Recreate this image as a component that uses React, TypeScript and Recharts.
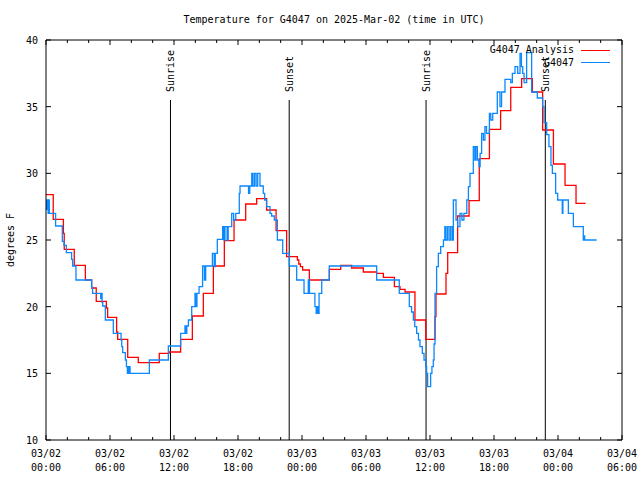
import React from 'react';
import { LineChart, Line, XAxis, YAxis, ReferenceLine } from 'recharts';

// hours since 2025-03-02 00:00 UTC, temperature in F (step data)
const analysisHours = [0, 0.68, 1.63, 1.71, 2.65, 3.69, 4.28, 4.71, 5.66, 5.78, 6.62, 6.72, 7.66, 8.65, 10.62, 11.53, 12.62, 13.72, 14.75, 15.69, 16.72, 17.63, 18.72, 19.75, 20.68, 21.57, 22.56, 23.57, 23.7, 23.85, 24.06, 24.69, 26.56, 27.63, 28.65, 29.75, 31.0, 31.63, 32.66, 33.19, 33.66, 34.59, 35.6, 36.47, 36.56, 37.5, 37.66, 38.59, 39.66, 40.62, 41.57, 42.62, 43.57, 44.59, 45.6, 46.56, 47.57, 48.66, 49.69, 50.59];
const analysisTemps = [28.4, 26.55, 25.5, 24.3, 23.1, 22.0, 21.4, 20.4, 19.9, 19.2, 18.1, 17.55, 16.2, 15.8, 16.5, 16.6, 17.55, 19.3, 21.0, 23.05, 24.95, 26.5, 27.7, 28.1, 27.25, 25.7, 23.75, 23.5, 23.2, 23.0, 22.75, 22.0, 22.8, 23.1, 22.9, 22.6, 22.5, 22.2, 21.5, 21.3, 21.1, 19.0, 17.55, 19.25, 20.95, 22.5, 24.05, 26.8, 27.95, 31.1, 33.3, 34.7, 36.45, 37.1, 36.1, 33.25, 30.7, 29.1, 27.75, 27.75];

const obsHours = [0, 0.05, 0.12, 0.2, 0.25, 0.31, 0.9, 1.53, 1.69, 1.91, 2.4, 2.5, 2.81, 4.28, 4.37, 5.13, 5.2, 5.26, 5.32, 5.56, 6.31, 7.04, 7.1, 7.19, 7.44, 7.54, 7.63, 7.69, 7.76, 7.82, 7.88, 9.69, 11.47, 12.62, 13.03, 13.1, 13.2, 13.35, 13.66, 13.97, 14.05, 14.15, 14.35, 14.68, 14.85, 14.97, 15.6, 15.77, 15.87, 16.06, 16.56, 16.68, 16.78, 16.98, 17.08, 17.41, 17.59, 17.79, 18.12, 18.19, 18.99, 19.1, 19.29, 19.4, 19.55, 19.7, 19.85, 20.06, 20.37, 20.5, 20.68, 21.0, 21.15, 21.4, 21.69, 22.19, 22.81, 23.5, 24.19, 24.59, 24.7, 25.21, 25.33, 25.42, 25.48, 25.6, 25.85, 26.56, 31.0, 33.12, 34.06, 34.27, 34.44, 34.57, 34.75, 34.92, 35.06, 35.28, 35.44, 35.6, 35.68, 35.78, 36.06, 36.18, 36.31, 36.38, 36.47, 36.62, 36.78, 37.0, 37.26, 37.39, 37.49, 37.64, 37.79, 37.94, 38.09, 38.19, 38.44, 38.59, 38.81, 38.99, 39.18, 39.45, 39.6, 39.75, 40.06, 40.2, 40.3, 40.44, 40.6, 40.7, 40.84, 41.0, 41.15, 41.3, 41.57, 41.7, 41.88, 42.31, 42.56, 42.71, 43.03, 43.57, 43.72, 43.97, 44.22, 44.44, 44.57, 44.69, 44.82, 45.06, 45.53, 46.06, 46.56, 46.69, 46.94, 47.15, 47.34, 47.47, 47.78, 47.97, 48.4, 48.46, 48.97, 49.44, 50.37, 50.45, 50.5, 51.62];
const obsTemps = [28.0, 27.3, 28.0, 27.0, 28.0, 27.0, 26.05, 24.9, 24.6, 24.05, 23.55, 23.05, 22.0, 21.45, 21.0, 20.6, 21.0, 20.3, 20.05, 19.0, 18.0, 17.5, 17.0, 16.55, 16.0, 15.5, 15.0, 15.5, 15.0, 15.5, 15.0, 16.0, 17.05, 18.0, 18.55, 18.0, 18.55, 19.0, 20.0, 21.0, 20.0, 21.0, 21.5, 23.05, 22.0, 23.05, 24.0, 23.0, 24.0, 25.05, 26.0, 25.0, 26.0, 25.0, 26.0, 27.0, 26.5, 27.0, 28.5, 29.05, 28.5, 29.05, 30.0, 29.05, 30.0, 29.05, 30.0, 29.05, 28.5, 28.0, 27.5, 27.0, 26.8, 26.5, 25.0, 24.0, 23.05, 22.0, 21.0, 22.0, 21.0, 20.0, 19.5, 20.0, 19.5, 21.0, 22.0, 23.05, 22.0, 21.0, 20.0, 19.6, 19.0, 18.5, 18.0, 17.5, 17.0, 16.5, 16.0, 15.5, 15.0, 14.0, 15.0, 15.5, 16.0, 17.2, 21.0, 23.0, 24.0, 24.5, 25.0, 26.0, 25.0, 26.0, 25.0, 26.0, 25.0, 28.0, 26.5, 26.0, 27.0, 26.5, 27.0, 28.0, 29.0, 30.0, 32.0, 31.0, 32.0, 31.0, 30.5, 31.5, 33.0, 32.5, 33.5, 33.0, 34.5, 34.0, 34.5, 36.1, 35.0, 36.1, 37.05, 36.8, 37.5, 38.0, 37.5, 39.0, 38.0, 37.5, 36.8, 39.05, 36.1, 35.65, 35.0, 33.8, 32.9, 32.0, 30.6, 30.0, 28.5, 28.0, 27.0, 28.0, 27.0, 26.0, 25.0, 25.3, 25.0, 25.0];

const sunEvents = ['Sunrise', 'Sunset', 'Sunrise', 'Sunset'];
const sunHours = [11.67, 22.8, 35.63, 46.81];

const xTicks = Array.from({ length: 28 }, (_, i) => i * 2);
const xTickDates = ['03/02', '03/02', '03/02', '03/02', '03/03', '03/03', '03/03', '03/03', '03/04', '03/04'];
const xTickTimes = ['00:00', '06:00', '12:00', '18:00', '00:00', '06:00', '12:00', '18:00', '00:00', '06:00'];
const yTicks = [10, 15, 20, 25, 30, 35, 40];

const analysisData = analysisHours.map((h, i) => ({ h, t: analysisTemps[i] }));
const obsData = obsHours.map((h, i) => ({ h, t: obsTemps[i] }));

const FONT = '"DejaVu Sans Mono", monospace';
const RED = '#ff0000';
const BLUE = '#0a88ff';

const BottomTick = ({ x, y, payload }: any) => {
  const major = payload.value % 6 === 0;
  const idx = payload.value / 6;
  return (
    <g>
      <line x1={x} y1={y} x2={x} y2={y - (major ? 5 : 3)} stroke="#000" />
      {major && (
        <text x={x} y={y} textAnchor="middle" fontFamily={FONT} fontSize={10} fill="#000">
          <tspan x={x} dy={17}>{xTickDates[idx]}</tspan>
          <tspan x={x} dy={14}>{xTickTimes[idx]}</tspan>
        </text>
      )}
    </g>
  );
};

const TopTick = ({ x, y, payload }: any) => {
  const major = payload.value % 6 === 0;
  return <line x1={x} y1={y} x2={x} y2={y + (major ? 5 : 3)} stroke="#000" />;
};

const LeftTick = ({ x, y, payload }: any) => (
  <g>
    <line x1={x} y1={y} x2={x + 5} y2={y} stroke="#000" />
    <text x={x - 8} y={y} dy={4} textAnchor="end" fontFamily={FONT} fontSize={10} fill="#000">
      {payload.value}
    </text>
  </g>
);

const RightTick = ({ x, y }: any) => <line x1={x} y1={y} x2={x - 5} y2={y} stroke="#000" />;

const sunLabel = (text: string) => (props: any) => {
  const { viewBox } = props;
  const x = viewBox.x;
  const y = viewBox.y - 8;
  return (
    <text
      x={x}
      y={y}
      transform={`rotate(-90 ${x} ${y})`}
      dy={4}
      textAnchor="start"
      fontFamily={FONT}
      fontSize={10}
      fill="#000"
    >
      {text}
    </text>
  );
};

export default function App() {
  return (
    <div style={{ position: 'relative', width: 640, height: 480, background: '#fff', fontFamily: FONT, fontSize: 10 }}>
      <style>{'body{margin:0}'}</style>
      <div style={{ position: 'absolute', top: 13, left: 46, width: 576, textAlign: 'center', lineHeight: '14px' }}>
        Temperature for G4047 on 2025-Mar-02 (time in UTC)
      </div>
      <div
        style={{
          position: 'absolute',
          left: 11,
          top: 240,
          transform: 'translate(-50%, -50%) rotate(-90deg)',
          whiteSpace: 'nowrap',
          lineHeight: '12px',
        }}
      >
        degrees F
      </div>
      <LineChart width={640} height={480} data={obsData} margin={{ top: 0, right: 0, bottom: 10, left: 0 }}>
        <XAxis
          dataKey="h"
          type="number"
          domain={[0, 54]}
          ticks={xTicks}
          interval={0}
          height={30}
          tickSize={0}
          tickMargin={0}
          tickLine={false}
          tick={<BottomTick />}
          axisLine={{ stroke: '#000' }}
          allowDataOverflow
        />
        <XAxis
          xAxisId="top"
          dataKey="h"
          type="number"
          orientation="top"
          domain={[0, 54]}
          ticks={xTicks}
          interval={0}
          height={40}
          tickSize={0}
          tickMargin={0}
          tickLine={false}
          tick={<TopTick />}
          axisLine={{ stroke: '#000' }}
          allowDataOverflow
        />
        <YAxis
          type="number"
          domain={[10, 40]}
          ticks={yTicks}
          interval={0}
          width={46}
          tickSize={0}
          tickMargin={0}
          tickLine={false}
          tick={<LeftTick />}
          axisLine={{ stroke: '#000' }}
          allowDataOverflow
        />
        <YAxis
          yAxisId="right"
          orientation="right"
          type="number"
          domain={[10, 40]}
          ticks={yTicks}
          interval={0}
          width={18}
          tickSize={0}
          tickMargin={0}
          tickLine={false}
          tick={<RightTick />}
          axisLine={{ stroke: '#000' }}
          allowDataOverflow
        />
        {sunHours.map((h, i) => (
          <ReferenceLine
            key={i}
            segment={[{ x: h, y: 35.5 }, { x: h, y: 10 }]}
            stroke="#000"
            strokeWidth={1}
            label={{ value: sunEvents[i], content: sunLabel(sunEvents[i]) }}
          />
        ))}
        <Line
          data={analysisData}
          dataKey="t"
          type="stepAfter"
          stroke={RED}
          strokeWidth={1.3}
          dot={false}
          isAnimationActive={false}
        />
        <Line
          data={obsData}
          dataKey="t"
          type="stepAfter"
          stroke={BLUE}
          strokeWidth={1.3}
          dot={false}
          isAnimationActive={false}
        />
      </LineChart>
      <div style={{ position: 'absolute', top: 44, right: 66, textAlign: 'right', lineHeight: '12.5px' }}>
        <div>G4047 Analysis</div>
        <div>G4047</div>
      </div>
      <div style={{ position: 'absolute', top: 50, left: 581, width: 29, height: 1.3, background: RED }} />
      <div style={{ position: 'absolute', top: 62, left: 581, width: 29, height: 1.3, background: BLUE }} />
    </div>
  );
}
